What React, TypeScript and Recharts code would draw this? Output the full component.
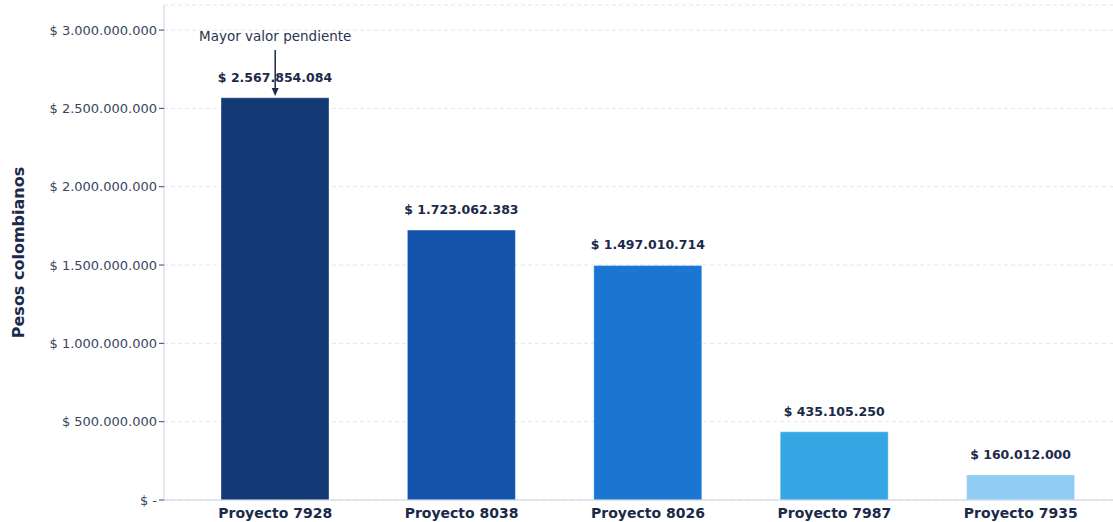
import React from 'react';
import { BarChart, Bar, XAxis, YAxis, CartesianGrid, Cell, LabelList, ReferenceLine, Label } from 'recharts';

const projects = ['Proyecto 7928', 'Proyecto 8038', 'Proyecto 8026', 'Proyecto 7987', 'Proyecto 7935'];
const pending = [2567854084, 1723062383, 1497010714, 435105250, 160012000];
const barColors = ['#133a75', '#1554ad', '#1b76d2', '#36a6e4', '#90cdf5'];
const yTicks = [0, 500000000, 1000000000, 1500000000, 2000000000, 2500000000, 3000000000];

const data = projects.map((name, i) => ({ name, value: pending[i] }));

const FONT = '"DejaVu Sans", sans-serif';
const NAVY = '#1b2a4a';

const money = (v: number) => (v === 0 ? '$ -' : '$ ' + v.toLocaleString('de-DE'));

const ValueLabel = (props: any) => {
    const { x, y, width, value } = props;
    return (
        <text x={x + width / 2} y={y - 16} textAnchor="middle" fontFamily={FONT} fontSize={12.5} fontWeight="bold" fill={NAVY}>
            {money(Number(value))}
        </text>
    );
};

const ArrowNote = (props: any) => {
    const { x1, y1, x2, y2 } = props;
    return (
        <g>
            <text x={x1} y={y1 - 9} textAnchor="middle" fontFamily={FONT} fontSize={13.5} fill="#2a3550">
                Mayor valor pendiente
            </text>
            <line x1={x1} y1={y1} x2={x2} y2={y2 - 6} stroke={NAVY} strokeWidth={1.5} />
            <path d={`M${x2 - 3.5},${y2 - 8} L${x2 + 3.5},${y2 - 8} L${x2},${y2} Z`} fill={NAVY} />
        </g>
    );
};

export default function App() {
    return (
        <div style={{ position: 'absolute', left: 0, top: 0, width: 1113, height: 522, overflow: 'hidden', background: '#fff' }}>
            <BarChart
                width={1132}
                height={522}
                data={data}
                margin={{ top: 5, right: 0, left: 0, bottom: 0 }}
                barCategoryGap={78}
            >
                <CartesianGrid vertical={false} stroke="#e3e6ec" strokeDasharray="4 3" />
                <XAxis
                    dataKey="name"
                    height={22}
                    tickLine={false}
                    stroke="#c8d2e2"
                    padding={{ left: 18, right: 18 }}
                    tick={{ fill: NAVY, fontFamily: FONT, fontSize: 14, fontWeight: 'bold' }}
                    interval={0}
                />
                <YAxis
                    width={164}
                    domain={[0, 3160000000]}
                    ticks={yTicks}
                    tickFormatter={money}
                    stroke="#c8d2e2"
                    tickLine={{ stroke: '#3a4660' }}
                    tickSize={5}
                    tick={{ fill: '#3a4660', fontFamily: FONT, fontSize: 13 }}
                >
                    <Label
                        value="Pesos colombianos"
                        angle={-90}
                        position="insideLeft"
                        offset={18}
                        style={{ fill: NAVY, fontFamily: FONT, fontSize: 16, fontWeight: 'bold', textAnchor: 'middle' }}
                    />
                </YAxis>
                <Bar dataKey="value" barSize={108} isAnimationActive={false} stroke="#ffffff" strokeOpacity={0.35}>
                    {data.map((d, i) => (
                        <Cell key={d.name} fill={barColors[i]} />
                    ))}
                    <LabelList dataKey="value" content={ValueLabel} />
                </Bar>
                <ReferenceLine
                    segment={[
                        { x: 'Proyecto 7928', y: 2873000000 },
                        { x: 'Proyecto 7928', y: 2579000000 },
                    ]}
                    shape={ArrowNote}
                    ifOverflow="visible"
                />
            </BarChart>
        </div>
    );
}
